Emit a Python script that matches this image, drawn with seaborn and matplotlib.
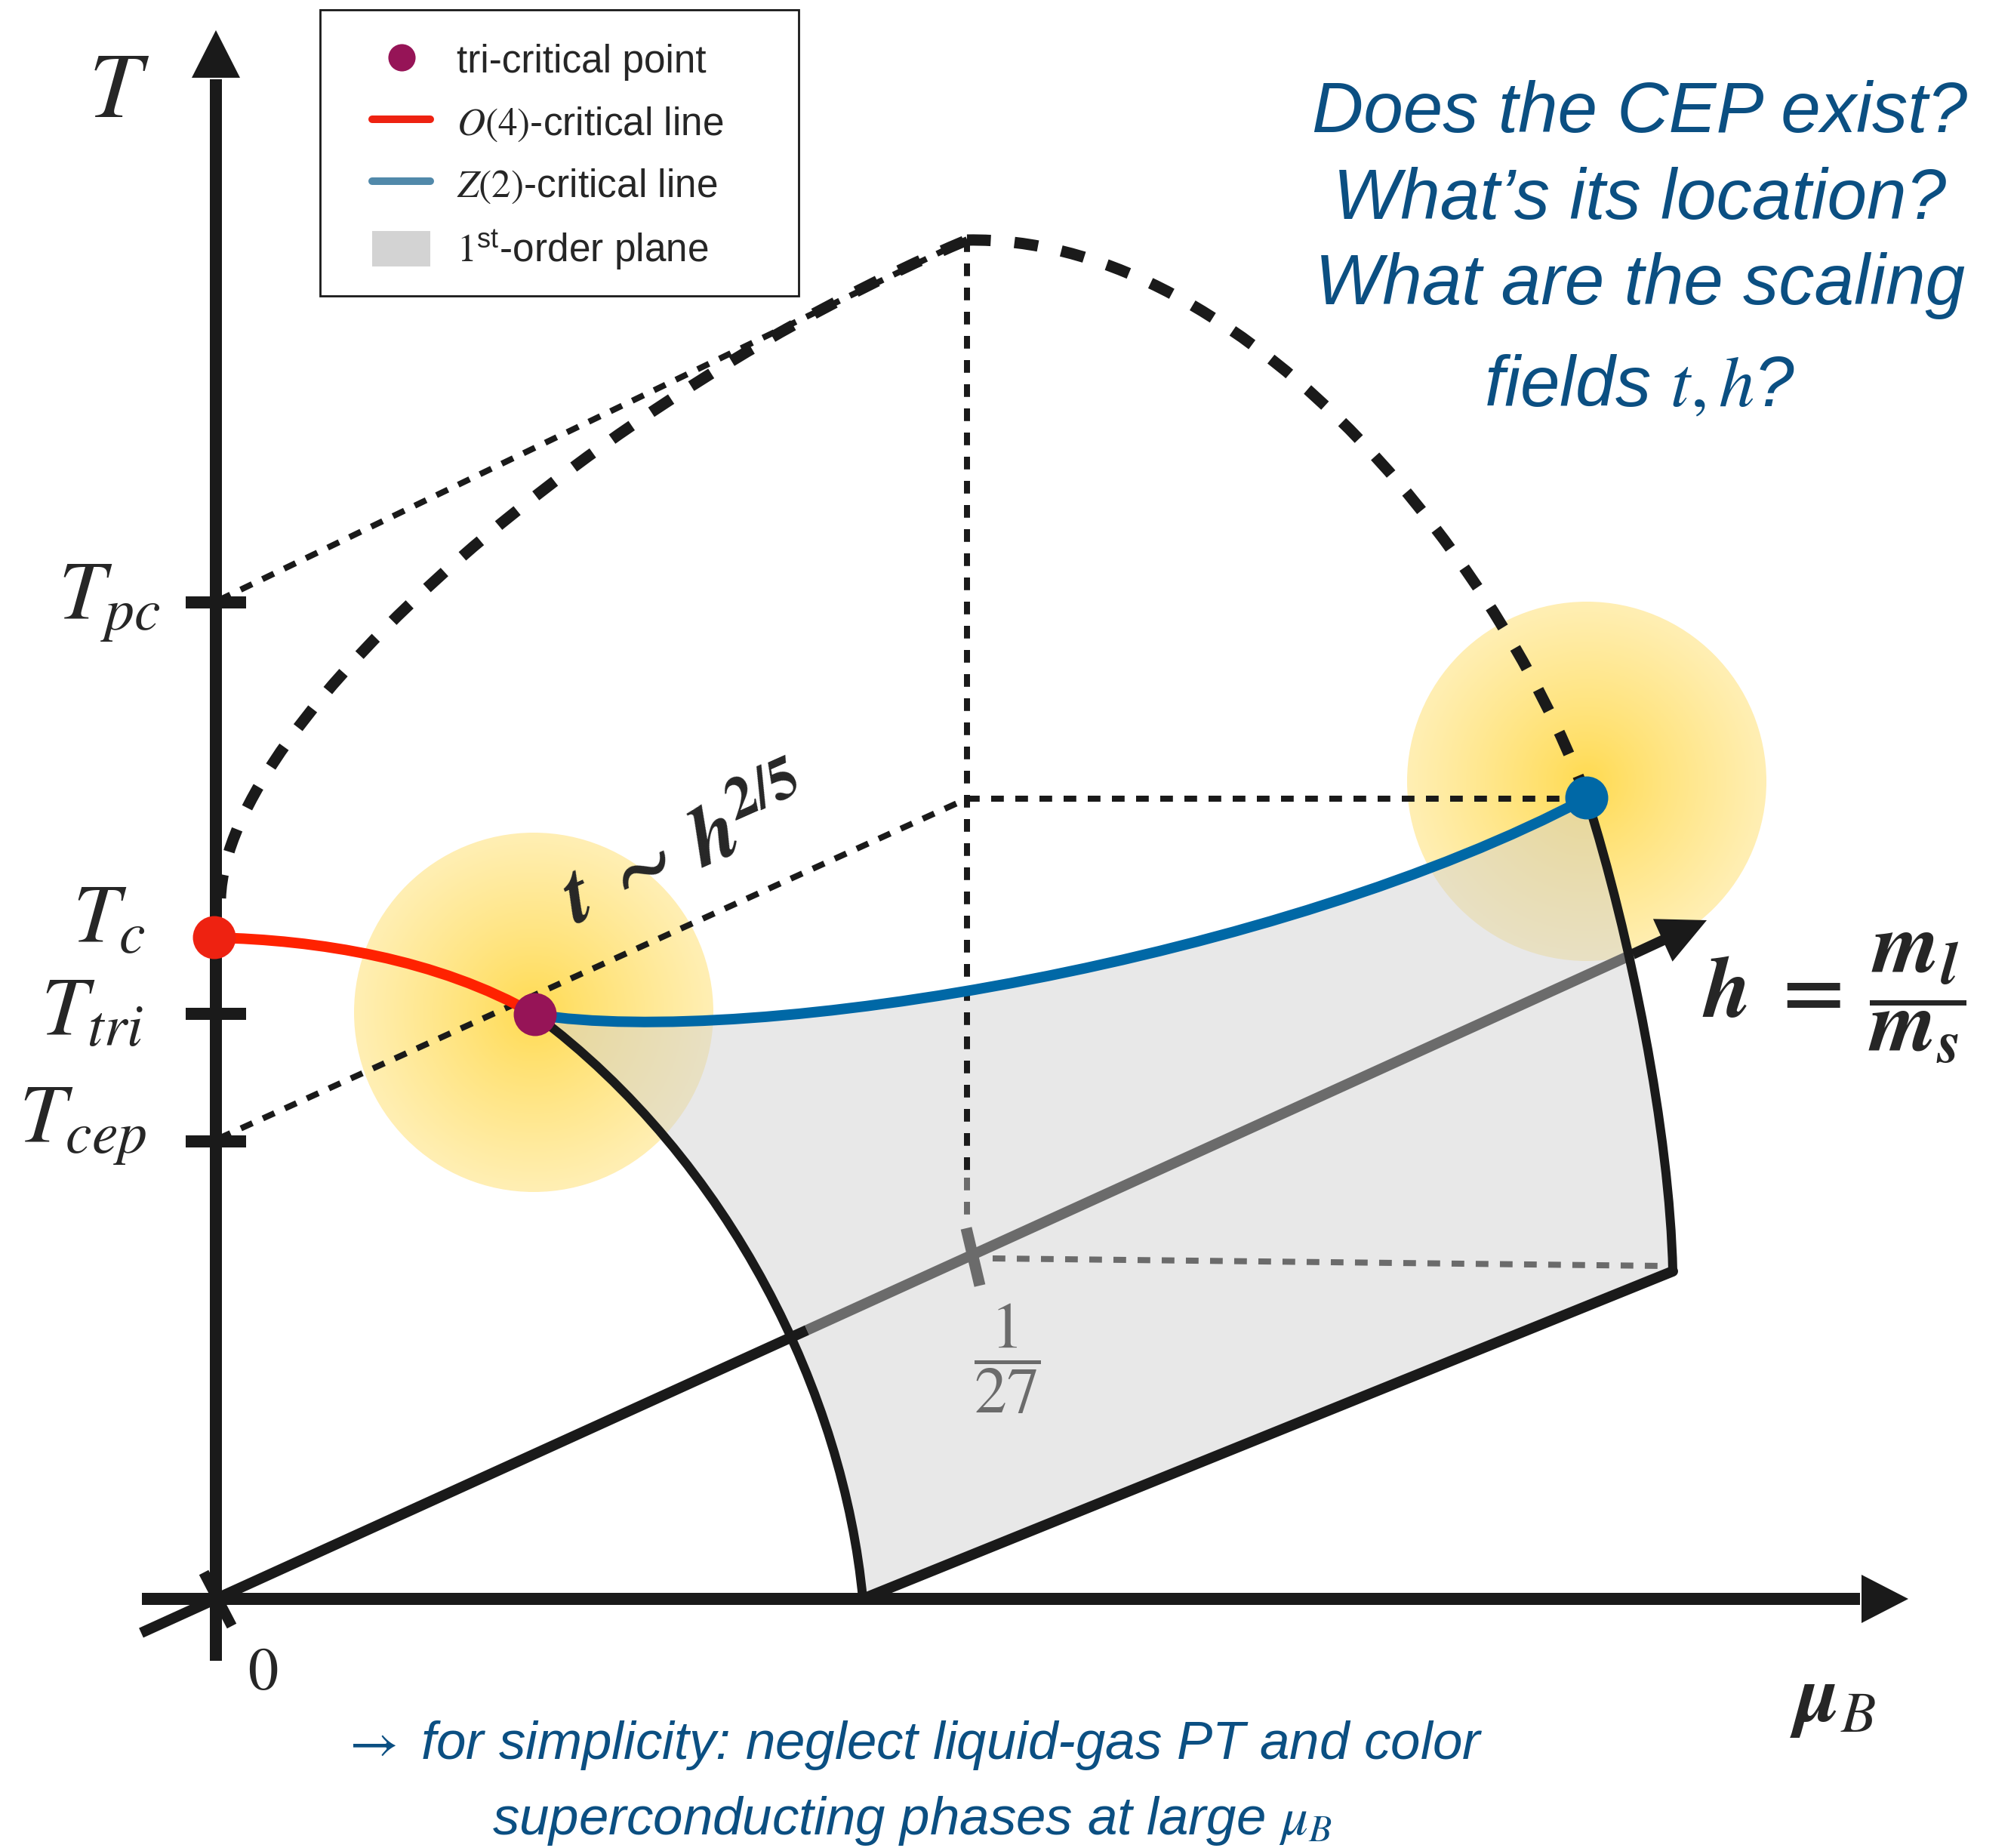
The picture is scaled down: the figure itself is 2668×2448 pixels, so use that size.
import numpy as np
import pandas as pd
import matplotlib
matplotlib.use("Agg")
import matplotlib.pyplot as plt
import seaborn as sns
from matplotlib.path import Path
from matplotlib.patches import PathPatch, Polygon, Circle, Rectangle, Patch
from matplotlib.lines import Line2D

# ---------------------------------------------------------------
# Diagram geometry, in canvas units (1 unit = 1 px, y points down)
# ---------------------------------------------------------------
W, H = 2668, 2448

# temperature axis
t_axis_x = 286
t_axis_ends = [2200, 103]          # bottom end, base of the arrow head
t_axis_tip = 40
# chemical potential axis
mu_axis_y = 2118
mu_axis_ends = [188, 2466]
mu_axis_tip = 2528

# tick marks on the temperature axis
t_tick_names = ["pc", "tri", "cep"]
t_tick_y = [798, 1343, 1512]

# temperature labels (right edge x, baseline y)
t_label_text = [r"$T_{pc}$", r"$T_c$", r"$T_{tri}$", r"$T_{cep}$"]
t_label_x = [213, 193, 190, 195]
t_label_y = [820, 1248, 1372, 1513]

# critical points
crit_names = ["T_c", "tri-critical", "CEP"]
crit_x = [284, 709, 2102]
crit_y = [1242, 1344, 1057]
crit_colors = ["#EE2211", "#961457", "#0068A6"]

# h = m_l/m_s axis on the diagonal: back end, origin, entry into plane,
# exit from plane, arrow tip
h_axis_x = [187, 286, 1069, 2163, 2261]
h_axis_y = [2163, 2118, 1762, 1264, 1219]
origin_mark = [(270, 2083), (307, 2154)]
h_mark_1_27 = [(1280, 1627), (1298, 1703)]

# cubic Bezier control points of the curves
o4_line = [(284, 1242), (420, 1245), (580, 1270), (709, 1344)]
z2_line = [(709, 1344), (1000, 1390), (1700, 1270), (2102, 1057)]
left_arc = [(709, 1344), (969, 1538), (1118, 1850), (1143, 2118)]
right_arc = [(2102, 1057), (2160, 1240), (2212, 1500), (2216, 1684)]
plane_bottom = [(2216, 1684), (1143, 2118)]
pc_left = [(292, 1190), (300, 950), (800, 520), (1281, 318)]
pc_right = [(1281, 318), (1631, 312), (1972, 710), (2102, 1057)]

# thin dotted guide lines
guide_pc = [(290, 795), (1281, 317)]
guide_cep = [(290, 1508), (1281, 1058)]
guide_top = [(1281, 317), (1281, 1560)]
guide_cep_h = [(1281, 1058), (2075, 1058)]
guide_grey_v = [(1281, 1560), (1281, 1612)]
guide_grey_h = [(1315, 1667), (2205, 1677)]

# glow around the critical points (centre, radius)
glow_centers = [(707, 1341), (2102, 1035)]
glow_radius = 238

question_lines = ["Does the CEP exist?", "What\u2019s its location?",
                  "What are the scaling", r"fields $t, h$?"]
question_baselines = [175, 290, 403, 538]
note_lines = [r"$\rightarrow$ for simplicity: neglect liquid-gas PT and color",
              r"superconducting phases at large $\mu_B$"]
note_baselines = [2330, 2430]

legend_labels = ["tri-critical point", r"$O(4)$-critical line",
                 r"$Z(2)$-critical line", r"$1^{\mathregular{st}}$-order plane"]

# ---------------------------------------------------------------
sns.set_theme(style="white")
plt.rcParams["font.family"] = ["Liberation Sans", "DejaVu Sans"]
plt.rcParams["mathtext.fontset"] = "stix"

PX = 0.72  # points per pixel at 100 dpi
BLUE_TXT = "#0B4F82"
GREY = "#6B6B6B"

fig = plt.figure(figsize=(W / 100, H / 100), dpi=100)
ax = fig.add_axes([0, 0, 1, 1])


def bezier_patch(pts, **kw):
    codes = [Path.MOVETO] + [Path.CURVE4] * 3
    p = PathPatch(Path(pts, codes), fill=False, **kw)
    ax.add_patch(p)
    return p


def seg(pts, **kw):
    xs, ys = zip(*pts)
    ax.plot(xs, ys, **kw)


# yellow glows
for (cx, cy) in glow_centers:
    n = 500
    g = np.linspace(-1, 1, n)
    X, Y = np.meshgrid(g, g)
    d = np.clip(np.hypot(X, Y), 0, 1) ** 0.85
    c0 = np.array([255, 218, 78]) / 255
    c1 = np.array([255, 239, 180]) / 255
    img = c0 * (1 - d)[..., None] + c1 * d[..., None]
    im = ax.imshow(img, extent=(cx - glow_radius, cx + glow_radius,
                                cy + glow_radius, cy - glow_radius),
                   zorder=1, interpolation="bilinear", aspect="auto")
    clip = Circle((cx, cy), glow_radius, transform=ax.transData,
                  fc="none", ec="none")
    ax.add_patch(clip)
    im.set_clip_path(clip)

# first-order plane
verts = (z2_line + right_arc[1:] + plane_bottom[1:] + left_arc[::-1][1:]
         + [z2_line[0]])
codes = ([Path.MOVETO] + [Path.CURVE4] * 3 + [Path.CURVE4] * 3 + [Path.LINETO]
         + [Path.CURVE4] * 3 + [Path.CLOSEPOLY])
ax.add_patch(PathPatch(Path(verts, codes), facecolor="lightgray", alpha=0.5,
                       edgecolor="none", zorder=2))

# dotted guide lines
dot_kw = dict(color="k", lw=8 * PX, dashes=(2.1, 1.9), zorder=3,
              solid_capstyle="butt", dash_capstyle="butt")
for g_ in (guide_pc, guide_cep, guide_top, guide_cep_h):
    seg(g_, **dot_kw)
for g_ in (guide_grey_v, guide_grey_h):
    seg(g_, **{**dot_kw, "color": GREY})

# thick dashed pseudo-critical curve
for c in (pc_left, pc_right):
    bezier_patch(c, edgecolor="k", lw=15 * PX, linestyle=(0, (2.1, 2.1)),
                 zorder=3, capstyle="butt")

# h-axis
hx, hy = h_axis_x, h_axis_y
seg([(hx[0], hy[0]), (hx[2], hy[2])], color="k", lw=14 * PX,
    solid_capstyle="butt", zorder=4)
seg([(hx[2], hy[2]), (hx[3], hy[3])], color=GREY, lw=14 * PX,
    solid_capstyle="butt", zorder=3.5)
tip = np.array([hx[4], hy[4]], float)
u = tip - np.array([hx[1], hy[1]], float)
u /= np.hypot(*u)
nrm = np.array([-u[1], u[0]])
base = tip - 64 * u
seg([(hx[3], hy[3]), tuple(base + 4 * u)], color="k", lw=14 * PX,
    solid_capstyle="butt", zorder=4)
ax.add_patch(Polygon([tip, base + 31 * nrm, base - 31 * nrm], closed=True,
                     fc="k", ec="none", zorder=4))
seg(origin_mark, color="k", lw=14 * PX, solid_capstyle="butt", zorder=6)
seg(h_mark_1_27, color=GREY, lw=15 * PX, solid_capstyle="butt", zorder=4)

# boundary of the plane
for c in (left_arc, right_arc):
    bezier_patch(c, edgecolor="k", lw=12 * PX, zorder=4)
seg(plane_bottom, color="k", lw=14 * PX, solid_capstyle="round", zorder=4)

# critical lines
bezier_patch(o4_line, edgecolor="#FF2200", lw=14 * PX, zorder=5)
bezier_patch(z2_line, edgecolor="#0068A6", lw=14 * PX, zorder=5)

# axes with arrow heads
seg([(t_axis_x, t_axis_ends[0]), (t_axis_x, t_axis_ends[1] + 2)],
    color="k", lw=16 * PX, solid_capstyle="butt", zorder=6)
ax.add_patch(Polygon([(t_axis_x - 32, t_axis_ends[1]),
                      (t_axis_x + 32, t_axis_ends[1]),
                      (t_axis_x, t_axis_tip)], fc="k", ec="none", zorder=6))
seg([(mu_axis_ends[0], mu_axis_y), (mu_axis_ends[1] - 2, mu_axis_y)],
    color="k", lw=16 * PX, solid_capstyle="butt", zorder=6)
ax.add_patch(Polygon([(mu_axis_ends[1], mu_axis_y - 32),
                      (mu_axis_ends[1], mu_axis_y + 32),
                      (mu_axis_tip, mu_axis_y)], fc="k", ec="none", zorder=6))
for y in t_tick_y:
    seg([(t_axis_x - 40, y), (t_axis_x + 40, y)], color="k", lw=16 * PX,
        solid_capstyle="butt", zorder=6)

# critical points
crit = pd.DataFrame({"x": crit_x, "y": crit_y, "kind": crit_names})
sns.scatterplot(data=crit, x="x", y="y", hue="kind",
                palette=dict(zip(crit_names, crit_colors)), s=1680,
                linewidth=0, legend=False, ax=ax, zorder=7)

# labels
for txt, x, y in zip(t_label_text, t_label_x, t_label_y):
    ax.text(x, y, txt, fontsize=80, ha="right", va="baseline", zorder=8)
ax.text(158, 155, r"$T$", fontsize=90, ha="center", va="baseline")
ax.text(348, 2238, r"$0$", fontsize=58, ha="center", va="baseline")
ax.text(2428, 2280, r"$\boldsymbol{\mu}_B$", fontsize=78, ha="center",
        va="baseline")
ax.text(910, 1128,
        r"$\boldsymbol{t}\;\boldsymbol{\sim}\;\boldsymbol{h}^{\boldsymbol{2/5}}$",
        fontsize=80, rotation=24, rotation_mode="anchor", ha="center",
        va="center", zorder=8)
ax.text(2430, 1322,
        r"$\boldsymbol{h}\;\boldsymbol{=}\;\dfrac{\boldsymbol{m}_{\boldsymbol{l}}}"
        r"{\boldsymbol{m}_{\boldsymbol{s}}}$",
        fontsize=82, ha="center", va="center", zorder=8)
ax.text(1334, 1800, r"$\dfrac{1}{27}$", color=GREY, fontsize=62,
        ha="center", va="center", zorder=8)

for line, y in zip(question_lines, question_baselines):
    ax.text(2172, y, line, fontsize=68, style="italic", color=BLUE_TXT,
            ha="center", va="baseline")
for line, y in zip(note_lines, note_baselines):
    ax.text(1208, y, line, fontsize=51, style="italic", color=BLUE_TXT,
            ha="center", va="baseline")

# legend
handles = [
    Line2D([], [], marker="o", ls="none", color=crit_colors[1],
           markersize=26, markeredgewidth=0),
    Line2D([], [], color="#EE2211", lw=10 * PX),
    Line2D([], [], color="#5189AA", lw=10 * PX),
    Patch(facecolor="#D3D3D3", edgecolor="none"),
]
leg = ax.legend(handles, legend_labels, loc="upper left",
                bbox_to_anchor=(493 / W, 1 - 55 / H), borderaxespad=0,
                borderpad=0, frameon=False, fontsize=37, handlelength=1.5,
                handletextpad=0.68, labelspacing=0.58, handleheight=1.05)
leg.set_zorder(9)
ax.add_patch(Rectangle((424, 13), 634, 379, fill=False, ec="k", lw=2,
                       zorder=9))

ax.set_xlim(0, W)
ax.set_ylim(H, 0)
ax.axis("off")
fig.savefig("out.png", dpi=100, facecolor="white")
